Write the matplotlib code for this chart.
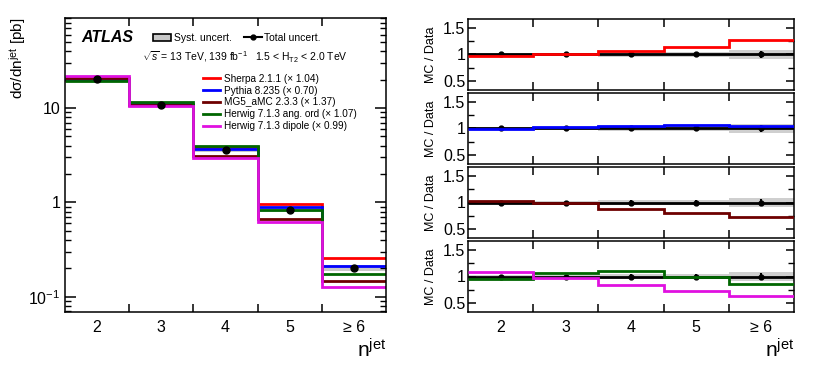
import numpy as np
import matplotlib
matplotlib.use('Agg')
import matplotlib.pyplot as plt
from matplotlib.patches import Patch
from matplotlib.lines import Line2D
from matplotlib.ticker import FixedLocator, NullFormatter, FuncFormatter

plt.rcParams['font.family'] = ['Liberation Sans', 'DejaVu Sans']
plt.rcParams['mathtext.fontset'] = 'custom'
plt.rcParams['mathtext.rm'] = 'Liberation Sans'
plt.rcParams['mathtext.it'] = 'Liberation Sans:italic'
plt.rcParams['axes.linewidth'] = 1.1

# data
nj_labels = ['2', '3', '4', '5', '\u2265 6']
data_xs = [20.4, 10.8, 3.57, 0.84, 0.203]
syst_unc = [0.03, 0.03, 0.04, 0.05, 0.08]
tot_unc = [0.03, 0.03, 0.04, 0.05, 0.07]

mc_names = ['Sherpa 2.1.1 (\u00d7 1.04)', 'Pythia 8.235 (\u00d7 0.70)', 'MG5_aMC 2.3.3 (\u00d7 1.37)',
            'Herwig 7.1.3 ang. ord (\u00d7 1.07)', 'Herwig 7.1.3 dipole (\u00d7 0.99)']
mc_colors = ['#ff0000', '#0000ff', '#6e0000', '#006600', '#e010e0']
sherpa = [0.98, 1.00, 1.07, 1.15, 1.27]
pythia = [0.99, 1.02, 1.04, 1.06, 1.04]
mg5 = [1.03, 1.00, 0.87, 0.80, 0.73]
herwig_ang = [0.95, 1.07, 1.10, 1.00, 0.85]
herwig_dip = [1.08, 0.97, 0.83, 0.73, 0.62]
mc_ratios = [sherpa, pythia, mg5, herwig_ang, herwig_dip]

centers = np.arange(len(nj_labels)) + 2
edges = np.append(centers - 0.5, centers[-1] + 0.5)
data_xs = np.array(data_xs)
syst = np.array(syst_unc)
tot = np.array(tot_unc)

W, H = 814, 386
fig = plt.figure(figsize=(W / 100, H / 100), dpi=100)


def box(x0, y0, x1, y1):
    return [x0 / W, 1 - y1 / H, (x1 - x0) / W, (y1 - y0) / H]


def style_x(ax, labels=True):
    ax.set_xlim(edges[0], edges[-1])
    ax.xaxis.set_major_locator(FixedLocator(centers))
    ax.xaxis.set_minor_locator(FixedLocator(edges[1:-1]))
    ax.tick_params(axis='x', which='major', length=0, labelsize=11.5, pad=6)
    ax.tick_params(axis='x', which='minor', length=6, width=1.1, direction='in', top=True, bottom=True)
    if labels:
        ax.set_xticklabels(nj_labels)
    else:
        ax.set_xticklabels([])


# ---- left panel: cross section
ax = fig.add_axes(box(65, 18, 386, 312))
ax.set_yscale('log')
ax.set_ylim(0.069, 90)
lo = data_xs * (1 - syst)
hi = data_xs * (1 + syst)
ax.stairs(hi, edges, baseline=lo, fill=True, color='#c8c8c8', zorder=1)
draw_order = [0, 1, 3, 4, 2]
for i in draw_order:
    ax.stairs(data_xs * np.array(mc_ratios[i]), edges, color=mc_colors[i], lw=2, zorder=2 + i * 0.1,
              baseline=None)
ax.errorbar(centers, data_xs, yerr=data_xs * tot, fmt='o', color='black', ms=5, lw=1.5, zorder=5)
style_x(ax)
ax.tick_params(axis='y', which='major', length=8, width=1.1, direction='in', right=True, labelsize=11.5)
ax.tick_params(axis='y', which='minor', length=4, width=1.0, direction='in', right=True)
ax.yaxis.set_minor_formatter(NullFormatter())
ax.yaxis.set_major_formatter(FuncFormatter(
    lambda v, p: {10.0: '10', 1.0: '1', 0.1: '$10^{-1}$'}.get(round(v, 3), '')))
ax.set_ylabel('d\u03c3/dn$^{\\mathrm{jet}}$ [pb]', fontsize=11, loc='top', labelpad=0)
ax.set_xlabel('n$^{\\mathrm{jet}}$', fontsize=15, loc='right', labelpad=2)

ax.text(0.052, 0.932, 'ATLAS', transform=ax.transAxes, fontsize=11.5, fontweight='bold',
        fontstyle='italic', va='center')
ax.text(0.24, 0.866, '$\\sqrt{s}$ = 13 TeV, 139 fb$^{-1}$   1.5 < H$_{\\mathrm{T2}}$ < 2.0 TeV',
        transform=ax.transAxes, fontsize=7.5, va='center')

h_unc = [Patch(facecolor='#c8c8c8', edgecolor='black', lw=1.2),
         Line2D([], [], color='black', marker='o', ms=3.5, lw=1.5)]
leg1 = ax.legend(h_unc, ['Syst. uncert.', 'Total uncert.'], ncol=2, loc='center left',
                 bbox_to_anchor=(0.274, 0.932), frameon=False, fontsize=7.5, handlelength=1.75,
                 handletextpad=0.25, columnspacing=1.15, borderpad=0, borderaxespad=0)
ax.add_artist(leg1)
h_mc = [Line2D([], [], color=c, lw=2) for c in mc_colors]
ax.legend(h_mc, mc_names, loc='upper left', bbox_to_anchor=(0.43, 0.81), frameon=False,
          fontsize=7.2, handlelength=1.7, handletextpad=0.35, labelspacing=0.18,
          borderpad=0, borderaxespad=0)

# ---- right panels: MC / Data
panel_sets = [[0], [1], [2], [3, 4]]
for k, ids in enumerate(panel_sets):
    top = 19 + k * 74
    rx = fig.add_axes(box(468, top, 794, top + 71))
    rx.set_ylim(0.32, 1.68)
    rx.stairs(1 + syst, edges, baseline=1 - syst, fill=True, color='#cfcfcf', zorder=1)
    rx.stairs(np.ones(len(centers)), edges, color='black', lw=2, baseline=None, zorder=2)
    rx.errorbar(centers, np.ones(len(centers)), yerr=tot, fmt='o', color='black', ms=3.5,
                lw=1.5, zorder=3)
    for i in ids:
        rx.stairs(mc_ratios[i], edges, color=mc_colors[i], lw=2, baseline=None, zorder=4)
    style_x(rx, labels=(k == 3))
    rx.yaxis.set_major_locator(FixedLocator([0.5, 1.0, 1.5]))
    rx.yaxis.set_minor_locator(FixedLocator([0.75, 1.25]))
    rx.yaxis.set_major_formatter(FuncFormatter(lambda v, p: '%g' % v))
    rx.tick_params(axis='y', which='major', length=6, width=1.1, direction='in', right=True,
                   labelsize=11.5, pad=2)
    rx.tick_params(axis='y', which='minor', length=4, width=1.0, direction='in', right=True)
    rx.set_ylabel('MC / Data', fontsize=9, labelpad=4)
    if k == 3:
        rx.set_xlabel('n$^{\\mathrm{jet}}$', fontsize=15, loc='right', labelpad=2)

fig.savefig('out.png', dpi=100)
